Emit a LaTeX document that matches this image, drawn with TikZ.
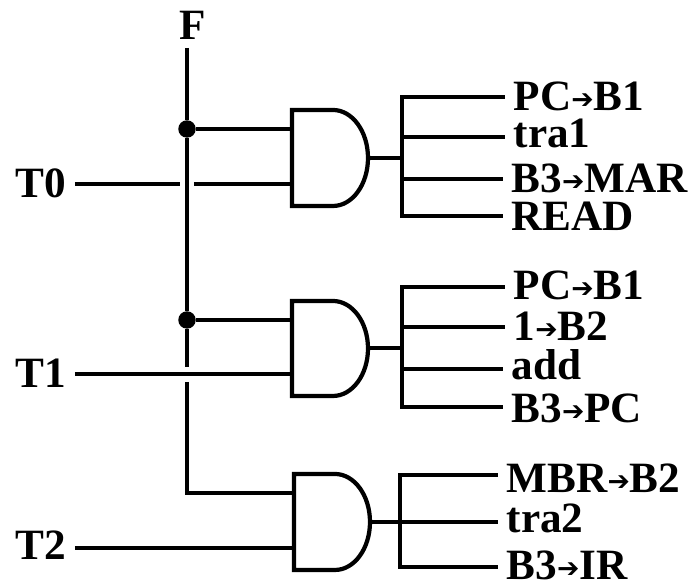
\documentclass[tikz,border=0pt]{standalone}
\usepackage{fontspec}
\setmainfont{Liberation Serif}
\newfontfamily\arrowfont{DejaVu Sans}
\newcommand{\toarrow}{\raisebox{.6pt}{\fontsize{7.6}{6}\selectfont\arrowfont ➔}}
\tikzset{
	wire/.style={line width=1.2pt},
	gate/.style={line width=1.2pt, miter limit=10},
	signal/.style={inner ysep=0pt, inner xsep=.08cm, font=\fontsize{12.3}{14}\selectfont\bfseries},
	junction/.style={draw, circle, fill, inner sep=0pt, minimum size=.16cm}
}
\begin{document}
\begin{tikzpicture}
	\useasboundingbox (0,0) rectangle (7,5.84);

	\node[signal, anchor=base] (F) at (1.93, 5.44) {F};

	\node[signal, anchor=base east] (T0) at (.75, 3.86) {T0};
	\node[signal, anchor=base east] (T1) at (.75, 1.96) {T1};
	\node[signal, anchor=base east] (T2) at (.75, 0.24) {T2};

	\coordinate (Bus-top) at (1.87, 5.36);
	\node[junction] (J0) at (1.87, 4.55) {};
	\node[junction] (J1) at (1.87, 2.64) {};
	\coordinate (Bus-gap0) at (1.87, 2.17);
	\coordinate (Bus-gap1) at (1.87, 2.02);
	\coordinate (Bus-end) at (1.87, 0.91);
	\coordinate (T0-gap0) at (1.80, 4.00);
	\coordinate (T0-gap1) at (1.94, 4.00);

	\coordinate (G0-a) at (2.92, 4.55);
	\coordinate (G0-b) at (2.92, 4.00);
	\coordinate (G0-o) at (3.68, 4.26);
	\coordinate (G1-a) at (2.92, 2.64);
	\coordinate (G1-b) at (2.92, 2.10);
	\coordinate (G1-o) at (3.68, 2.36);
	\coordinate (G2-a) at (2.94, 0.91);
	\coordinate (G2-b) at (2.94, 0.36);
	\coordinate (G2-o) at (3.70, 0.62);

	\draw[gate] (2.92, 4.74) -- (3.33, 4.74) arc[start angle=90, end angle=-90, x radius=.35, y radius=.48] -- (2.92, 3.78) -- cycle;
	\draw[gate] (2.92, 2.83) -- (3.33, 2.83) arc[start angle=90, end angle=-90, x radius=.35, y radius=.475] -- (2.92, 1.88) -- cycle;
	\draw[gate] (2.94, 1.10) -- (3.35, 1.10) arc[start angle=90, end angle=-90, x radius=.35, y radius=.48] -- (2.94, 0.14) -- cycle;

	\coordinate (R0-0) at (4.02, 4.87);
	\coordinate (R0-1) at (4.02, 4.47);
	\coordinate (R0-2) at (4.02, 4.05);
	\coordinate (R0-3) at (4.02, 3.68);
	\coordinate (R0-o) at (4.02, 4.26);
	\coordinate (R1-0) at (4.02, 2.97);
	\coordinate (R1-1) at (4.02, 2.57);
	\coordinate (R1-2) at (4.02, 2.15);
	\coordinate (R1-3) at (4.02, 1.77);
	\coordinate (R1-o) at (4.02, 2.36);
	\coordinate (R2-0) at (4.00, 1.09);
	\coordinate (R2-1) at (4.00, 0.62);
	\coordinate (R2-2) at (4.00, 0.17);

	\node[signal, anchor=base west] (L0-0) at (5.05, 4.73) {PC\toarrow B1};
	\node[signal, anchor=base west] (L0-1) at (5.05, 4.36) {tra1};
	\node[signal, anchor=base west] (L0-2) at (5.03, 3.91) {B3\toarrow MAR};
	\node[signal, anchor=base west] (L0-3) at (5.03, 3.53) {READ};

	\node[signal, anchor=base west] (L1-0) at (5.05, 2.84) {PC\toarrow B1};
	\node[signal, anchor=base west] (L1-1) at (5.05, 2.43) {1\toarrow B2};
	\node[signal, anchor=base west] (L1-2) at (5.03, 2.04) {add};
	\node[signal, anchor=base west] (L1-3) at (5.03, 1.61) {B3\toarrow PC};

	\node[signal, anchor=base west] (L2-0) at (4.98, 0.91) {MBR\toarrow B2};
	\node[signal, anchor=base west] (L2-1) at (4.98, 0.51) {tra2};
	\node[signal, anchor=base west] (L2-2) at (4.98, 0.04) {B3\toarrow IR};

	\draw[wire] (Bus-top) to (J0);
	\draw[wire] (J0) to (J1);
	\draw[wire] (J1) to (Bus-gap0);
	\draw[wire] (Bus-gap1) -- (Bus-end) -- (G2-a);

	\draw[wire] (J0) to (G0-a);
	\draw[wire] (J1) to (G1-a);

	\draw[wire] (T0.east |- G0-b) to (T0-gap0);
	\draw[wire] (T0-gap1) to (G0-b);
	\draw[wire] (T1.east |- G1-b) to (G1-b);
	\draw[wire] (T2.east |- G2-b) to (G2-b);

	\draw[wire] (G0-o) to (R0-o);
	\draw[wire] (G1-o) to (R1-o);
	\draw[wire] (G2-o) to (R2-1);

	\draw[wire] (L0-0.west |- R0-0) -- (R0-0) -- (R0-3) -- (L0-3.west |- R0-3);
	\draw[wire] (R0-1) to (L0-1.west |- R0-1);
	\draw[wire] (R0-2) to (L0-2.west |- R0-2);

	\draw[wire] (L1-0.west |- R1-0) -- (R1-0) -- (R1-3) -- (L1-3.west |- R1-3);
	\draw[wire] (R1-1) to (L1-1.west |- R1-1);
	\draw[wire] (R1-2) to (L1-2.west |- R1-2);

	\draw[wire] (L2-0.west |- R2-0) -- (R2-0) -- (R2-2) -- (L2-2.west |- R2-2);
	\draw[wire] (R2-1) to (L2-1.west |- R2-1);

\end{tikzpicture}
\end{document}
